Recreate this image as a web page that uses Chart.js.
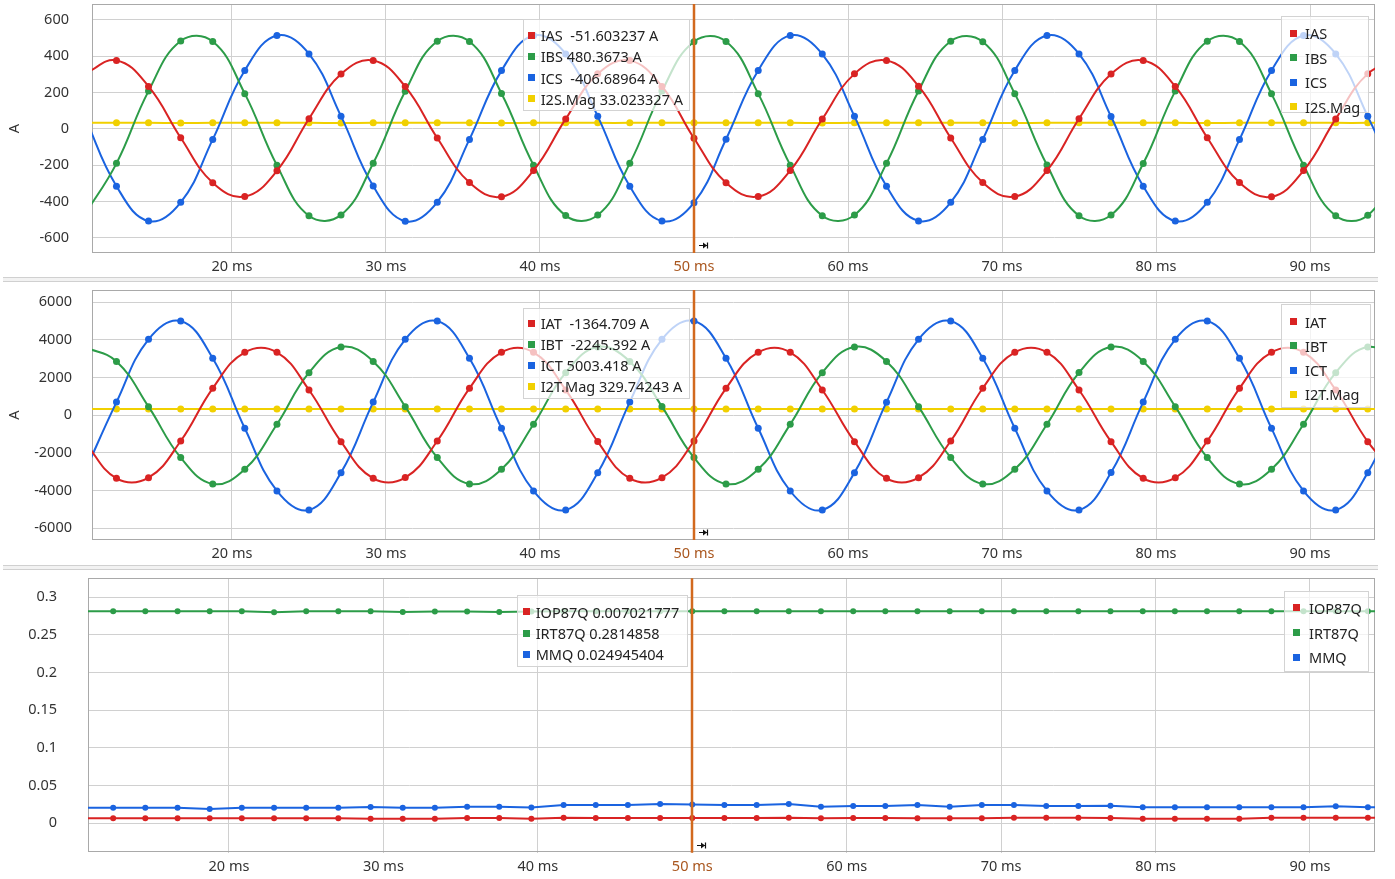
<!DOCTYPE html>
<html>
<head>
<meta charset="utf-8">
<title>Differential currents</title>
<script src="https://cdn.jsdelivr.net/npm/chart.js@4.4.1/dist/chart.umd.min.js"></script>
<style>
  html, body { margin: 0; padding: 0; background: #fff; }
  #wrap { position: relative; width: 1395px; height: 879px; overflow: hidden; font-family: "Noto Sans", sans-serif; }
  #wrap canvas { position: absolute; left: 0; }
  .split { position: absolute; left: 3px; width: 1375px; height: 3px; background: #f2f2f2; border-top: 1px solid #d0d0d0; border-bottom: 1px solid #d0d0d0; }
  .box { position: absolute; background: rgba(255, 255, 255, 0.72); border: 1px solid #d3d3d3; box-sizing: border-box; }
  .row { position: absolute; left: 0; height: 20px; line-height: 20px; font-size: 14.5px; color: #222; white-space: pre; }
  .row i { position: absolute; top: 6.5px; width: 7px; height: 7px; }
  .row span { position: absolute; top: 0; }
</style>
</head>
<body>
<div id="wrap">
  <canvas id="p1" width="1395" height="276" style="top:0"></canvas>
  <div class="split" style="top:277px"></div>
  <canvas id="p2" width="1395" height="276" style="top:284px"></canvas>
  <div class="split" style="top:565px"></div>
  <canvas id="p3" width="1395" height="307" style="top:572px"></canvas>
</div>
<script>
// Sample times (ms), 8 samples per 60 Hz cycle
const sampleTimes = [10.42, 12.50, 14.58, 16.67, 18.75, 20.83, 22.92, 25.00, 27.08, 29.17,
    31.25, 33.33, 35.42, 37.50, 39.58, 41.67, 43.75, 45.83, 47.92, 50.00,
    52.08, 54.17, 56.25, 58.33, 60.42, 62.50, 64.58, 66.67, 68.75, 70.83,
    72.92, 75.00, 77.08, 79.17, 81.25, 83.33, 85.42, 87.50, 89.58, 91.67,
    93.75, 95.83];
const cursorTime = 50;
const cursorIndex = 19;
const xTicks = [20, 30, 40, 50, 60, 70, 80, 90];

// Panel 1 - S winding currents (A)
const s1Names = ['IAS', 'IBS', 'ICS', 'I2S.Mag'];
const IAS = [303, 377, 234, -49, -297, -373, -231, 56, 302, 377,
    233, -50, -296, -374, -229, 55, 303, 376, 234, -51.603237,
    -297, -373, -230, 54, 303, 377, 235, -50, -296, -373,
    -230, 56, 302, 377, 234, -49, -296, -374, -230, 55,
    303, 377];
const IBS = [-475, -190, 208, 484, 481, 194, -201, -479, -474, -189,
    207, 483, 481, 195, -200, -478, -475, -190, 208, 480.3673,
    481, 194, -200, -479, -475, -190, 209, 483, 480, 194,
    -199, -479, -475, -191, 208, 483, 481, 193, -200, -479,
    -476, -190];
const ICS = [69, -316, -508, -405, -58, 322, 514, 413, 70, -315,
    -509, -404, -58, 321, 514, 413, 69, -316, -508, -406.68964,
    -57, 322, 515, 412, 69, -316, -507, -405, -58, 322,
    514, 413, 68, -316, -508, -405, -59, 322, 514, 413,
    69, -316];
const I2S = [33.0, 33.1, 33.0, 32.9, 33.0, 33.1, 33.0, 33.0, 32.9, 33.0,
    33.1, 33.0, 33.0, 32.9, 33.0, 33.1, 33.0, 33.0, 33.0, 33.023327,
    33.0, 33.1, 33.0, 32.9, 33.0, 33.0, 33.1, 33.0, 33.0, 32.9,
    33.0, 33.0, 33.1, 33.0, 33.0, 32.9, 33.0, 33.0, 33.1, 33.0,
    33.0, 33.0];
const s1Ticks = [-600, -400, -200, 0, 200, 400, 600];

// Panel 2 - T winding currents (A)
const s2Names = ['IAT', 'IBT', 'ICT', 'I2T.Mag'];
const IAT = [-1398, -3345, -3310, -1366, 1434, 3345, 3344, 1345, -1398, -3346,
    -3309, -1364, 1433, 3345, 3346, 1346, -1397, -3345, -3310, -1364.709,
    1434, 3344, 3345, 1345, -1398, -3345, -3311, -1365, 1435, 3345,
    3345, 1344, -1398, -3344, -3310, -1364, 1434, 3346, 3345, 1345,
    -1399, -3345];
const IBT = [3628, 2860, 460, -2246, -3646, -2867, -478, 2265, 3627, 2861,
    459, -2245, -3645, -2868, -478, 2264, 3628, 2860, 461, -2245.392,
    -3646, -2866, -479, 2265, 3628, 2859, 460, -2246, -3646, -2867,
    -477, 2266, 3628, 2860, 460, -2245, -3647, -2867, -478, 2265,
    3629, 2860];
const ICT = [-3044, 700, 4035, 5004, 3027, -690, -4018, -5027, -3044, 701,
    4034, 5003, 3028, -689, -4018, -5026, -3045, 700, 4035, 5003.418,
    3027, -690, -4019, -5027, -3044, 699, 4035, 5004, 3026, -690,
    -4018, -5027, -3043, 700, 4036, 5003, 3027, -691, -4018, -5028,
    -3044, 700];
const I2T = [329.7, 329.8, 329.7, 329.6, 329.7, 329.8, 329.7, 329.7, 329.6, 329.7,
    329.8, 329.7, 329.7, 329.6, 329.7, 329.8, 329.7, 329.7, 329.7, 329.74243,
    329.7, 329.8, 329.7, 329.6, 329.7, 329.7, 329.8, 329.7, 329.7, 329.6,
    329.7, 329.7, 329.8, 329.7, 329.7, 329.6, 329.7, 329.7, 329.8, 329.7,
    329.7, 329.7];
const s2Ticks = [-6000, -4000, -2000, 0, 2000, 4000, 6000];

// Panel 3 - 87Q quantities
const s3Names = ['IOP87Q', 'IRT87Q', 'MMQ'];
const IOP87Q = [0.0066, 0.0066, 0.0066, 0.0066, 0.0066, 0.0066, 0.0066, 0.0066, 0.0066, 0.0061,
    0.0061, 0.0061, 0.0070, 0.0070, 0.0061, 0.0075, 0.0070, 0.0070, 0.0070, 0.007021777,
    0.0070, 0.0070, 0.0075, 0.0066, 0.0070, 0.0070, 0.0066, 0.0066, 0.0066, 0.0075,
    0.0075, 0.0075, 0.0070, 0.0061, 0.0061, 0.0061, 0.0061, 0.0075, 0.0075, 0.0075,
    0.0075, 0.0075];
const IRT87Q = [0.2814, 0.2814, 0.2814, 0.2814, 0.2814, 0.2814, 0.2802, 0.2814, 0.2814, 0.2814,
    0.2805, 0.2812, 0.2812, 0.2805, 0.2812, 0.2814, 0.2814, 0.2814, 0.2814, 0.2814858,
    0.2814, 0.2814, 0.2814, 0.2814, 0.2814, 0.2814, 0.2814, 0.2814, 0.2814, 0.2814,
    0.2814, 0.2814, 0.2814, 0.2814, 0.2814, 0.2814, 0.2814, 0.2814, 0.2814, 0.2814,
    0.2814, 0.2814];
const MMQ = [0.0208, 0.0208, 0.0208, 0.0208, 0.0190, 0.0208, 0.0208, 0.0208, 0.0208, 0.0216,
    0.0208, 0.0208, 0.0221, 0.0221, 0.0210, 0.0243, 0.0243, 0.0243, 0.0256, 0.024945404,
    0.0243, 0.0243, 0.0256, 0.0221, 0.0230, 0.0230, 0.0243, 0.0221, 0.0243, 0.0243,
    0.0230, 0.0230, 0.0234, 0.0212, 0.0212, 0.0212, 0.0212, 0.0212, 0.0212, 0.0226,
    0.0212, 0.0212];
const s3Ticks = [0, 0.05, 0.1, 0.15, 0.2, 0.25, 0.3];

const seriesColors = ['#d92323', '#2c9c48', '#1a63e0', '#f1d000'];
const fontSpec = { family: '"Noto Sans", sans-serif', size: 14.5 };

// plot frame (all four sides)
const framePlugin = {
    id: 'frame',
    beforeDatasetsDraw(chart) {
        const { ctx, chartArea: a } = chart;
        ctx.save();
        ctx.strokeStyle = '#a9a9a9';
        ctx.lineWidth = 1;
        ctx.strokeRect(Math.round(a.left) + 0.5, Math.round(a.top) + 0.5,
            Math.round(a.right - a.left) - 1, Math.round(a.bottom - a.top) - 1);
        ctx.restore();
    }
};

// orange time cursor with its small drag handle
const cursorPlugin = {
    id: 'cursor',
    afterDatasetsDraw(chart) {
        const { ctx, chartArea: a, scales: { x } } = chart;
        const px = Math.round(x.getPixelForValue(cursorTime));
        ctx.save();
        ctx.strokeStyle = '#d2691e';
        ctx.lineWidth = 2.5;
        ctx.beginPath();
        ctx.moveTo(px, a.top);
        ctx.lineTo(px, a.bottom);
        ctx.stroke();
        const hy = Math.round(a.bottom - 8) + 0.5;
        ctx.strokeStyle = '#111';
        ctx.lineWidth = 1.2;
        ctx.beginPath();
        ctx.moveTo(px + 5, hy);
        ctx.lineTo(px + 13, hy);
        ctx.moveTo(px + 13.5, hy - 3);
        ctx.lineTo(px + 13.5, hy + 3);
        ctx.stroke();
        ctx.fillStyle = '#111';
        ctx.beginPath();
        ctx.moveTo(px + 13, hy);
        ctx.lineTo(px + 9, hy - 3);
        ctx.lineTo(px + 9, hy + 3);
        ctx.fill();
        ctx.restore();
    }
};

function buildPanel(id, p) {
    const canvas = document.getElementById(id);
    const h = canvas.height;
    return new Chart(canvas, {
        type: 'line',
        data: {
            datasets: p.names.map((name, i) => ({
                label: name,
                data: sampleTimes.map((t, k) => ({ x: t, y: p.values[i][k] })),
                borderColor: seriesColors[i],
                backgroundColor: seriesColors[i],
                pointBackgroundColor: seriesColors[i],
                borderWidth: 2,
                pointRadius: p.pointRadius,
                pointBorderWidth: 0,
                tension: p.tension
            }))
        },
        options: {
            responsive: false,
            animation: false,
            events: [],
            layout: { padding: { top: p.top, right: 20, left: 0, bottom: 0 } },
            plugins: { legend: { display: false }, tooltip: { enabled: false } },
            scales: {
                x: {
                    type: 'linear',
                    min: p.xMin,
                    max: p.xMax,
                    afterBuildTicks: ax => { ax.ticks = xTicks.map(v => ({ value: v })); },
                    afterFit: ax => { ax.height = h - p.bottom; ax.paddingLeft = 0; ax.paddingRight = 0; },
                    grid: { color: '#d0d0d0', drawTicks: false },
                    border: { display: false },
                    ticks: {
                        font: fontSpec,
                        padding: 5,
                        autoSkip: false,
                        maxRotation: 0,
                        color: c => (c.tick && c.tick.value === cursorTime) ? '#a9561e' : '#333',
                        callback: v => v + ' ms'
                    }
                },
                y: {
                    min: p.yMin,
                    max: p.yMax,
                    afterBuildTicks: ax => { ax.ticks = p.yTicks.map(v => ({ value: v })); },
                    afterFit: ax => { ax.width = p.left; ax.paddingTop = 0; ax.paddingBottom = 0; },
                    grid: { color: '#d0d0d0', drawTicks: false },
                    border: { display: false },
                    title: {
                        display: !!p.yTitle,
                        text: p.yTitle || '',
                        font: fontSpec,
                        color: '#333',
                        padding: { top: 6, bottom: 0 }
                    },
                    ticks: {
                        font: fontSpec,
                        padding: p.tickPad,
                        color: '#333',
                        autoSkip: false,
                        callback: v => String(v)
                    }
                }
            }
        },
        plugins: [framePlugin, cursorPlugin]
    });
}

buildPanel('p1', {
    names: s1Names, values: [IAS, IBS, ICS, I2S], yTicks: s1Ticks,
    yMin: -684, yMax: 688, xMin: 10.91, xMax: 94.22,
    top: 3, bottom: 253, left: 92, tickPad: 23, yTitle: 'A', pointRadius: 3.5, tension: 0.42
});
buildPanel('p2', {
    names: s2Names, values: [IAT, IBT, ICT, I2T], yTicks: s2Ticks,
    yMin: -6621, yMax: 6653, xMin: 10.91, xMax: 94.22,
    top: 6, bottom: 256, left: 92, tickPad: 20, yTitle: 'A', pointRadius: 3.5, tension: 0.42
});
buildPanel('p3', {
    names: s3Names, values: [IOP87Q, IRT87Q, MMQ], yTicks: s3Ticks,
    yMin: -0.039, yMax: 0.3252, xMin: 10.87, xMax: 94.21,
    top: 6.3, bottom: 280.7, left: 88, tickPad: 31, yTitle: '', pointRadius: 3, tension: 0
});

// readout boxes at the cursor, and legends on the right
function fmtReadout(name, v, unit) {
    return name + (v < 0 ? '  ' : ' ') + v + unit;
}
function makeBox(b) {
    const box = document.createElement('div');
    box.className = 'box';
    box.style.left = b.left + 'px';
    box.style.top = b.top + 'px';
    box.style.width = b.width + 'px';
    box.style.height = b.height + 'px';
    b.items.forEach((txt, i) => {
        const row = document.createElement('div');
        row.className = 'row';
        row.style.top = (b.first + i * b.gap - 11) + 'px';
        const mark = document.createElement('i');
        mark.style.left = (b.markX - 4.5) + 'px';
        mark.style.background = seriesColors[i];
        const label = document.createElement('span');
        label.style.left = (b.textX - 1) + 'px';
        label.textContent = txt;
        row.appendChild(mark);
        row.appendChild(label);
        box.appendChild(row);
    });
    document.getElementById('wrap').appendChild(box);
}

const s1Values = [IAS, IBS, ICS, I2S];
const s2Values = [IAT, IBT, ICT, I2T];
const s3Values = [IOP87Q, IRT87Q, MMQ];

makeBox({ left: 523, top: 19, width: 167, height: 92, first: 16, gap: 21.3, markX: 8.7, textX: 17.7,
    items: s1Names.map((n, i) => fmtReadout(n, s1Values[i][cursorIndex], ' A')) });
makeBox({ left: 1281, top: 16, width: 88, height: 97, first: 17, gap: 24.6, markX: 12.3, textX: 24,
    items: s1Names });
makeBox({ left: 523, top: 308, width: 167, height: 91, first: 15.3, gap: 20.9, markX: 8.7, textX: 17.7,
    items: s2Names.map((n, i) => fmtReadout(n, s2Values[i][cursorIndex], ' A')) });
makeBox({ left: 1281, top: 304, width: 90, height: 104, first: 17.7, gap: 24.2, markX: 12.3, textX: 24,
    items: s2Names });
makeBox({ left: 517, top: 595, width: 171, height: 72, first: 16.7, gap: 21.3, markX: 9.7, textX: 18.7,
    items: s3Names.map((n, i) => fmtReadout(n, s3Values[i][cursorIndex], '')) });
makeBox({ left: 1284, top: 591, width: 85, height: 81, first: 16.7, gap: 24.8, markX: 12.7, textX: 25,
    items: s3Names });
</script>
</body>
</html>
